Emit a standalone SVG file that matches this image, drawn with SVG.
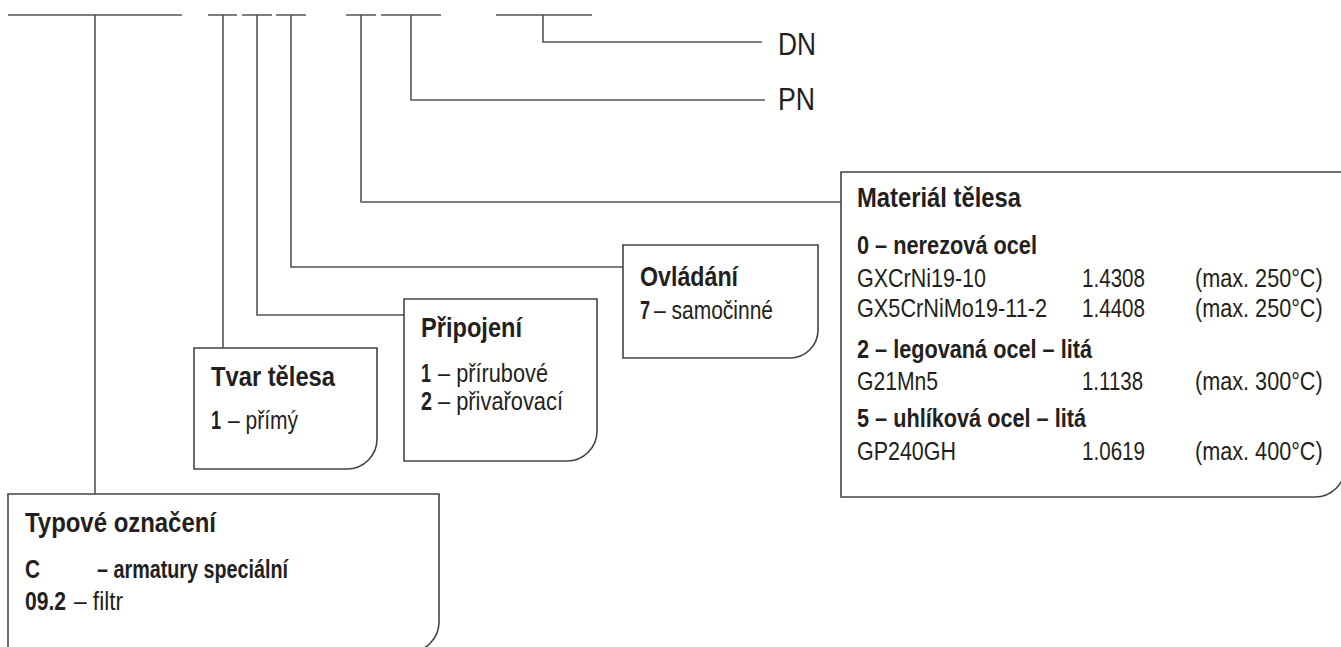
<svg xmlns="http://www.w3.org/2000/svg" width="1341" height="647" viewBox="0 0 1341 647">
<style>
.ln{fill:none;stroke:#555;stroke-width:1.6}
.bx{fill:#fff;stroke:#444;stroke-width:1.6}
text{font-family:"Liberation Sans",Arial,sans-serif;fill:#231f20}
.h{font-size:28px;font-weight:bold}
.b{font-size:26px;font-weight:bold}
.r{font-size:26px}
.big{font-size:31px}
</style>
<g id="connectors">
<path class="ln" d="M8,15H182M208,15H237M242,15H272M276,15H306M346,15H376M381,15H441M496,15H592"/>
<path class="ln" d="M95,15V494"/>
<path class="ln" d="M223,15V348"/>
<path class="ln" d="M257,15V315H404"/>
<path class="ln" d="M291,15V267H623"/>
<path class="ln" d="M361,15V202H841"/>
<path class="ln" d="M411,15V100H765"/>
<path class="ln" d="M543,15V42H762"/>
</g>
<g id="dn"><text class="r big" x="778" y="55" textLength="38" lengthAdjust="spacingAndGlyphs">DN</text></g>
<g id="pn"><text class="r big" x="778" y="110" textLength="37" lengthAdjust="spacingAndGlyphs">PN</text></g>
<g id="typove">
<path class="bx" d="M8,494H439V622A30,30 0 0 1 409,652H8Z"/>
<text class="h" x="25" y="532" textLength="191" lengthAdjust="spacingAndGlyphs">Typové označení</text>
<text class="b" x="25" y="578" textLength="15" lengthAdjust="spacingAndGlyphs">C</text>
<text class="b" x="97" y="578" textLength="191" lengthAdjust="spacingAndGlyphs">– armatury speciální</text>
<text class="b" x="25" y="610" textLength="41" lengthAdjust="spacingAndGlyphs">09.2</text>
<text class="r" x="74" y="610" textLength="49" lengthAdjust="spacingAndGlyphs">– filtr</text>
</g>
<g id="tvar">
<path class="bx" d="M194,348H377V439A30,30 0 0 1 347,469H194Z"/>
<text class="h" x="211" y="386" textLength="124" lengthAdjust="spacingAndGlyphs">Tvar tělesa</text>
<text class="b" x="211" y="429" textLength="10" lengthAdjust="spacingAndGlyphs">1</text>
<text class="r" x="228" y="429" textLength="70" lengthAdjust="spacingAndGlyphs">– přímý</text>
</g>
<g id="pripojeni">
<path class="bx" d="M404,299H597V431A30,30 0 0 1 567,461H404Z"/>
<text class="h" x="421" y="337" textLength="101" lengthAdjust="spacingAndGlyphs">Připojení</text>
<text class="b" x="421" y="382" textLength="10" lengthAdjust="spacingAndGlyphs">1</text>
<text class="r" x="438" y="382" textLength="110" lengthAdjust="spacingAndGlyphs">– přírubové</text>
<text class="b" x="421" y="410" textLength="11" lengthAdjust="spacingAndGlyphs">2</text>
<text class="r" x="438" y="410" textLength="125" lengthAdjust="spacingAndGlyphs">– přivařovací</text>
</g>
<g id="ovladani">
<path class="bx" d="M623,245H818V330A28,28 0 0 1 790,358H623Z"/>
<text class="h" x="640" y="286" textLength="98" lengthAdjust="spacingAndGlyphs">Ovládání</text>
<text class="b" x="640" y="319" textLength="10" lengthAdjust="spacingAndGlyphs">7</text>
<text class="r" x="654" y="319" textLength="119" lengthAdjust="spacingAndGlyphs">– samočinné</text>
</g>
<g id="material">
<path class="bx" d="M841,172H1345V467A30,30 0 0 1 1315,497H841Z"/>
<text class="h" x="857" y="207" textLength="164" lengthAdjust="spacingAndGlyphs">Materiál tělesa</text>
<text class="b" x="857" y="254" textLength="180" lengthAdjust="spacingAndGlyphs">0 – nerezová ocel</text>
<text class="r" x="857" y="287" textLength="129" lengthAdjust="spacingAndGlyphs">GXCrNi19-10</text>
<text class="r" x="1082" y="287" textLength="63" lengthAdjust="spacingAndGlyphs">1.4308</text>
<text class="r" transform="translate(1195,287) scale(0.833,1)">(max. 250°C)</text>
<text class="r" x="857" y="317" textLength="190" lengthAdjust="spacingAndGlyphs">GX5CrNiMo19-11-2</text>
<text class="r" x="1082" y="317" textLength="63" lengthAdjust="spacingAndGlyphs">1.4408</text>
<text class="r" transform="translate(1195,317) scale(0.833,1)">(max. 250°C)</text>
<text class="b" x="857" y="358" textLength="235" lengthAdjust="spacingAndGlyphs">2 – legovaná ocel – litá</text>
<text class="r" x="857" y="390" textLength="81" lengthAdjust="spacingAndGlyphs">G21Mn5</text>
<text class="r" x="1082" y="390" textLength="61" lengthAdjust="spacingAndGlyphs">1.1138</text>
<text class="r" transform="translate(1195,390) scale(0.833,1)">(max. 300°C)</text>
<text class="b" x="857" y="427" textLength="229" lengthAdjust="spacingAndGlyphs">5 – uhlíková ocel – litá</text>
<text class="r" x="857" y="460" textLength="99" lengthAdjust="spacingAndGlyphs">GP240GH</text>
<text class="r" x="1082" y="460" textLength="63" lengthAdjust="spacingAndGlyphs">1.0619</text>
<text class="r" transform="translate(1195,460) scale(0.833,1)">(max. 400°C)</text>
</g>
</svg>
